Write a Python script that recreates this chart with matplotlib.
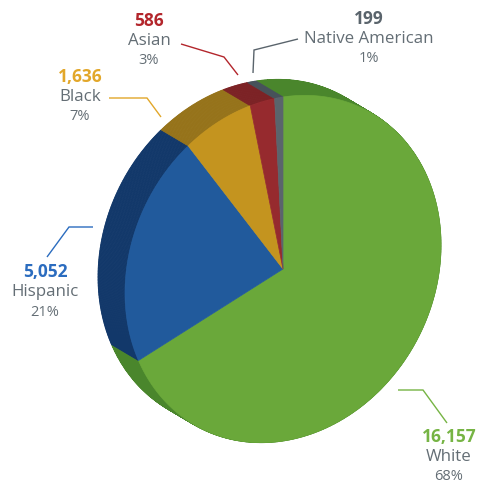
import numpy as np
import matplotlib
matplotlib.use("Agg")
import matplotlib.pyplot as plt
from matplotlib.patches import Polygon

# Population by race / ethnicity
categories = ["White", "Hispanic", "Black", "Asian", "Native American"]
values = [16157, 5052, 1636, 586, 199]
percent_labels = ["68%", "21%", "7%", "3%", "1%"]

face_colors = ["#6aa83a", "#215a9c", "#c4941f", "#962a2e", "#5a646c"]
side_colors = ["#4a862c", "#12386a", "#96731a", "#7c2225", "#47525a"]
value_colors = ["#76b444", "#2b6cbf", "#e2a72a", "#b3262c", "#5a646c"]
text_grey = "#646e75"

# Projection of the tilted pie: centre, the two axis vectors and the depth offset
CENTER = np.array([283.0, 269.0])
U = np.array([158.0, -24.0])
V = np.array([0.0, -172.0])
DEPTH = np.array([-27.0, -16.0])


def project(theta):
    theta = np.asarray(theta)
    return CENTER + np.outer(np.cos(theta), U) + np.outer(np.sin(theta), V)


fig = plt.figure(figsize=(4.8, 4.82), dpi=100)
ax = fig.add_axes([0, 0, 1, 1])
ax.set_xlim(0, 480)
ax.set_ylim(482, 0)
ax.axis("off")

total = float(sum(values))
fractions = np.array(values) / total
bounds = np.concatenate([[0.0], np.cumsum(fractions)])
# slices run clockwise from 12 o'clock
angles = np.pi / 2 - 2 * np.pi * bounds

# side walls
for i in range(len(values)):
    a0, a1 = angles[i], angles[i + 1]
    n = max(4, int(abs(a1 - a0) / (2 * np.pi) * 720))
    ts = np.linspace(a0, a1, n + 1)
    pts = project(ts)
    for k in range(n):
        p0, p1 = pts[k], pts[k + 1]
        quad = [p0, p1, p1 + DEPTH, p0 + DEPTH]
        ax.add_patch(Polygon(quad, closed=True, facecolor=side_colors[i],
                             edgecolor=side_colors[i], linewidth=0.6))

# front faces
for i in range(len(values)):
    a0, a1 = angles[i], angles[i + 1]
    n = max(4, int(abs(a1 - a0) / (2 * np.pi) * 720))
    ts = np.linspace(a0, a1, n + 1)
    pts = np.vstack([CENTER, project(ts)])
    ax.add_patch(Polygon(pts, closed=True, facecolor=face_colors[i],
                         edgecolor=face_colors[i], linewidth=0.5))

# leader lines and labels
connectors = [
    [(398, 390), (423, 390), (447, 423)],
    [(93, 227), (69, 227), (47, 257)],
    [(161, 117), (147, 98), (109, 98)],
    [(238, 75), (224, 57), (181, 44)],
    [(253, 73), (254, 50), (298, 39)],
]
label_pos = [(449, 437), (45, 272), (80, 77), (149, 21), (369, 19)]

font = ["Open Sans", "DejaVu Sans"]
for i in range(len(values)):
    xs, ys = zip(*connectors[i])
    ax.plot(xs, ys, color=value_colors[i], linewidth=1.0,
            solid_capstyle="butt", solid_joinstyle="miter")
    x, y = label_pos[i]
    ax.text(x, y, f"{values[i]:,}", ha="center", va="center",
            fontsize=12.5, fontweight="bold", color=value_colors[i], family=font)
    ax.text(x, y + 20, categories[i], ha="center", va="center",
            fontsize=12.2, color=text_grey, family=font)
    ax.text(x, y + 40, percent_labels[i], ha="center", va="center",
            fontsize=10.5, color=text_grey, family=font)

fig.savefig("out.png", dpi=100)
